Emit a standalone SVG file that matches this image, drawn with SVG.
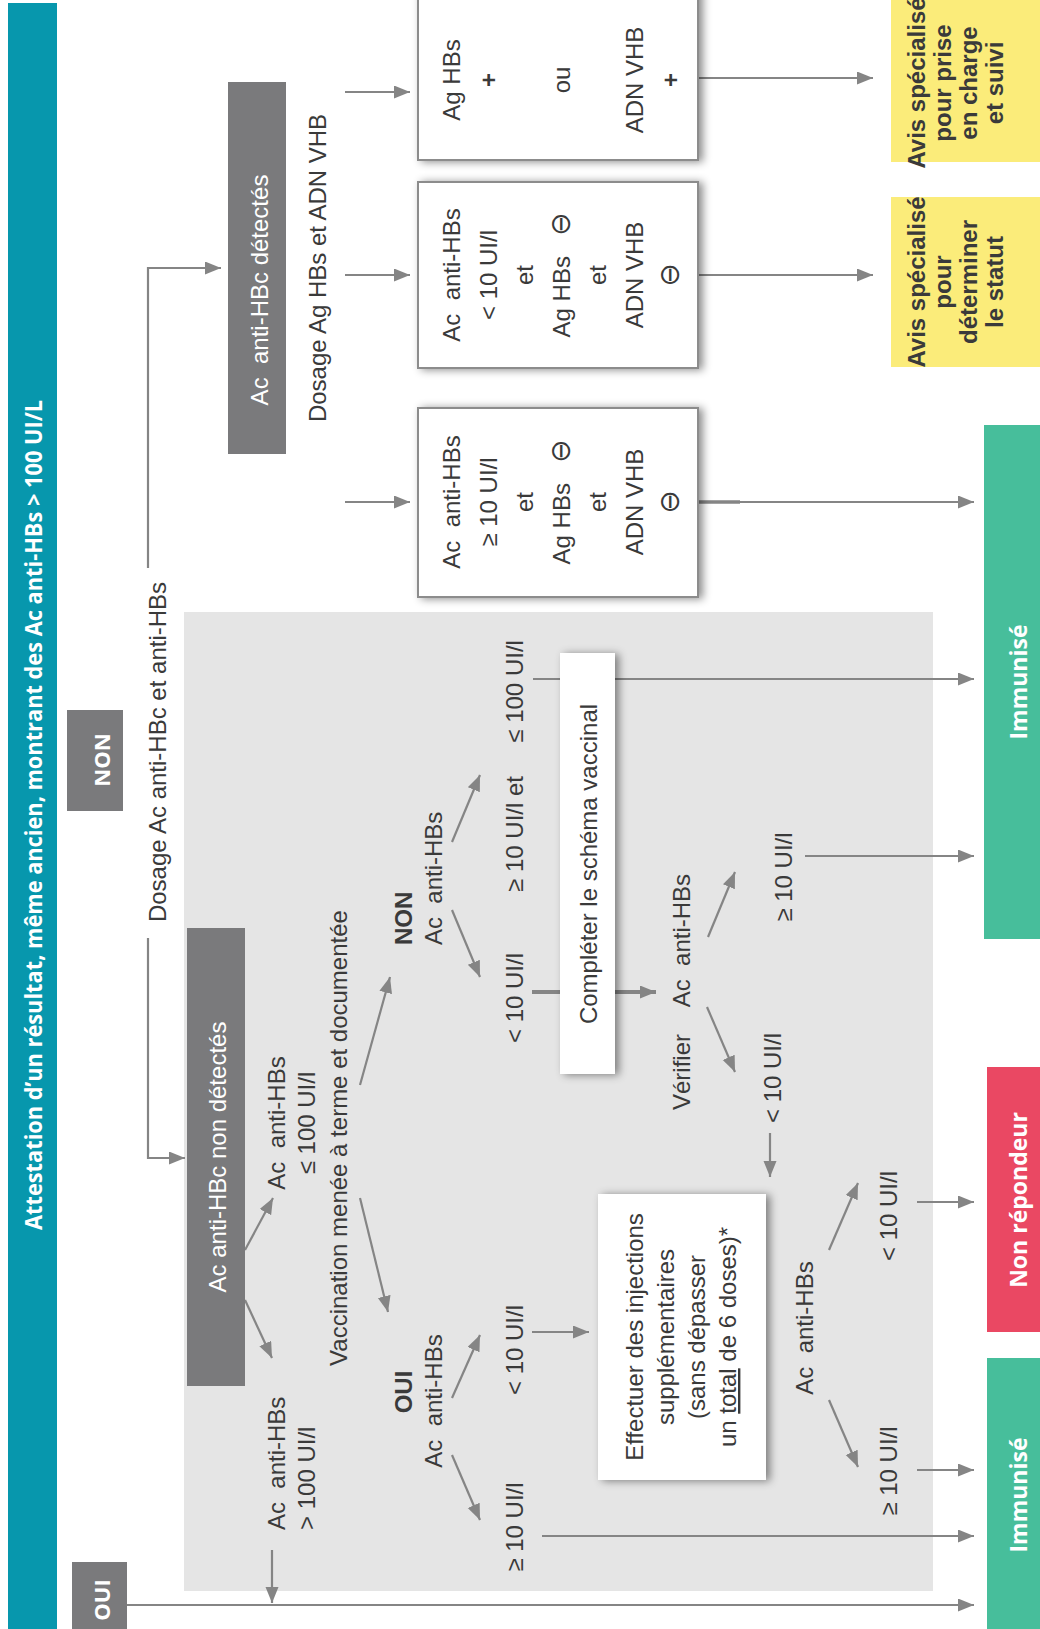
<svg xmlns="http://www.w3.org/2000/svg" width="1040" height="1629" viewBox="0 0 1040 1629">
<defs>
<style>
.t{font-family:"Liberation Sans",Arial,sans-serif;font-size:24px;fill:#3a3a3a}
.m{text-anchor:middle}
.w{fill:#fff}
.b{font-weight:bold}
.os{font-family:"Open Sans","Liberation Sans",sans-serif;font-weight:700;fill:#fff}
.ln{fill:none;stroke:#858585;stroke-width:2.2}
.dk{fill:#7a7a7c}
.box{fill:#fff;stroke:#8c8c8c;stroke-width:2}
.wb{fill:#fff}
.sym{font-family:"DejaVu Sans",sans-serif;font-size:28px}
</style>
<marker id="ah" markerUnits="userSpaceOnUse" markerWidth="17" markerHeight="14" refX="16" refY="6.5" orient="auto"><path d="M0,0 L16,6.5 L0,13 z" fill="#858585"/></marker>
<filter id="sh" x="-30%" y="-30%" width="160%" height="160%"><feDropShadow dx="4" dy="1" stdDeviation="4" flood-color="#000" flood-opacity="0.45"/></filter>
</defs>
<rect width="1040" height="1629" fill="#fff"/>
<rect id="zone-gris" x="184" y="612" width="749" height="979" fill="#e5e5e5"/>

<g id="connectors">
<path class="ln" d="M148,568 V268 H221" marker-end="url(#ah)"/>
<path class="ln" d="M148,938 V1158 H185" marker-end="url(#ah)"/>
<path class="ln" d="M245,1250 L273,1198" marker-end="url(#ah)"/>
<path class="ln" d="M245,1300 L272,1358" marker-end="url(#ah)"/>
<path class="ln" d="M272,1550 V1603" marker-end="url(#ah)"/>
<path class="ln" d="M127,1605 H974" marker-end="url(#ah)"/>
<path class="ln" d="M360,1085 L390,977" marker-end="url(#ah)"/>
<path class="ln" d="M360,1198 L388,1312" marker-end="url(#ah)"/>
<path class="ln" d="M452,842 L480,775" marker-end="url(#ah)"/>
<path class="ln" d="M452,910 L480,977" marker-end="url(#ah)"/>
<path class="ln" d="M533,679 H974" marker-end="url(#ah)"/>
<path class="ln" d="M532,992 H656" style="stroke-width:4" marker-end="url(#ah)"/>
<path class="ln" d="M708,937 L735,872" marker-end="url(#ah)"/>
<path class="ln" d="M707,1007 L735,1072" marker-end="url(#ah)"/>
<path class="ln" d="M805,856 H974" marker-end="url(#ah)"/>
<path class="ln" d="M770,1133 V1177" marker-end="url(#ah)"/>
<path class="ln" d="M452,1398 L480,1335" marker-end="url(#ah)"/>
<path class="ln" d="M452,1455 L480,1520" marker-end="url(#ah)"/>
<path class="ln" d="M532,1332 H589" marker-end="url(#ah)"/>
<path class="ln" d="M542,1536 H974" marker-end="url(#ah)"/>
<path class="ln" d="M829,1250 L858,1183" marker-end="url(#ah)"/>
<path class="ln" d="M829,1400 L858,1467" marker-end="url(#ah)"/>
<path class="ln" d="M917,1202 H974" marker-end="url(#ah)"/>
<path class="ln" d="M917,1470 H974" marker-end="url(#ah)"/>
<path class="ln" d="M345,92 H410" marker-end="url(#ah)"/>
<path class="ln" d="M345,275 H410" marker-end="url(#ah)"/>
<path class="ln" d="M345,502 H410" marker-end="url(#ah)"/>
<path class="ln" d="M698,78 H873" marker-end="url(#ah)"/>
<path class="ln" d="M698,275 H873" marker-end="url(#ah)"/>
<path class="ln" d="M698,502 H974" marker-end="url(#ah)"/>
<path class="ln" d="M698,502 H740" style="stroke-width:3.5"/>
</g>

<g id="titre">
<rect x="8" y="3" width="49" height="1626" fill="#0797ad"/>
<text class="os" font-size="23" transform="translate(42,815) rotate(-90)" text-anchor="middle" textLength="830" lengthAdjust="spacingAndGlyphs">Attestation d’un résultat, même ancien, montrant des Ac anti-HBs &gt; 100 UI/L</text>
</g>
<g id="oui">
<rect class="dk" x="72" y="1562" width="55" height="67"/>
<text class="os" font-size="22" transform="translate(110,1600) rotate(-90)" text-anchor="middle">OUI</text>
</g>
<g id="non">
<rect class="dk" x="67" y="710" width="56" height="101"/>
<text class="os" font-size="22" transform="translate(110,760) rotate(-90)" text-anchor="middle">NON</text>
</g>
<g id="dosage1">
<text class="t m" transform="translate(166,752) rotate(-90)">Dosage Ac anti-HBc et anti-HBs</text>
</g>
<g id="non-detectes">
<rect class="dk" x="187" y="928" width="58" height="458"/>
<text class="t m w" font-size="25" transform="translate(226,1157) rotate(-90)">Ac anti-HBc non détectés</text>
</g>
<g id="detectes">
<rect class="dk" x="228" y="82" width="58" height="372"/>
<text class="t m w" font-size="25" transform="translate(268,290) rotate(-90)">Ac&#160; anti-HBc détectés</text>
</g>
<g id="dosage2">
<text class="t m" transform="translate(326,268) rotate(-90)">Dosage Ag HBs et ADN VHB</text>
</g>
<g id="res1">
<rect class="box" x="418" y="408" width="280" height="189" filter="url(#sh)"/>
<text class="t m" transform="translate(460,502) rotate(-90)"><tspan x="0" y="0">Ac&#160; anti-HBs</tspan><tspan x="0" dy="36.5">≥ 10 UI/l</tspan><tspan x="0" dy="36.5">et</tspan><tspan x="0" dy="36.5">Ag HBs&#160;&#160;&#160;<tspan class="sym">⊖</tspan></tspan><tspan x="0" dy="36.5">et</tspan><tspan x="0" dy="36.5">ADN VHB</tspan><tspan x="0" dy="36.5" class="sym">⊖</tspan></text>
</g>
<g id="res2">
<rect class="box" x="418" y="182" width="280" height="186" filter="url(#sh)"/>
<text class="t m" transform="translate(460,275) rotate(-90)"><tspan x="0" y="0">Ac&#160; anti-HBs</tspan><tspan x="0" dy="36.5">&lt; 10 UI/l</tspan><tspan x="0" dy="36.5">et</tspan><tspan x="0" dy="36.5">Ag HBs&#160;&#160;&#160;<tspan class="sym">⊖</tspan></tspan><tspan x="0" dy="36.5">et</tspan><tspan x="0" dy="36.5">ADN VHB</tspan><tspan x="0" dy="36.5" class="sym">⊖</tspan></text>
</g>
<g id="res3">
<rect class="box" x="418" y="-10" width="280" height="170" filter="url(#sh)"/>
<text class="t m" transform="translate(460,80) rotate(-90)"><tspan x="0" y="0">Ag HBs</tspan><tspan x="0" dy="36.5" class="b">+</tspan><tspan x="0" dy="73">ou</tspan><tspan x="0" dy="73">ADN VHB</tspan><tspan x="0" dy="36.5" class="b">+</tspan></text>
</g>
<g id="avis1">
<rect x="891" y="0" width="149" height="162" fill="#fbec7a"/>
<text class="t m b" font-size="20" fill="#222" transform="translate(925,83) rotate(-90)"><tspan x="0" y="0">Avis spécialisé</tspan><tspan x="0" dy="26">pour prise</tspan><tspan x="0" dy="26">en charge</tspan><tspan x="0" dy="26">et suivi</tspan></text>
</g>
<g id="avis2">
<rect x="891" y="197" width="149" height="170" fill="#fbec7a"/>
<text class="t m b" font-size="20" fill="#222" transform="translate(925,282) rotate(-90)"><tspan x="0" y="0">Avis spécialisé</tspan><tspan x="0" dy="26">pour</tspan><tspan x="0" dy="26">déterminer</tspan><tspan x="0" dy="26">le statut</tspan></text>
</g>
<g id="immunise1">
<rect x="984" y="425" width="56" height="514" fill="#47be9b"/>
<text class="os" font-size="23" transform="translate(1027,682) rotate(-90)" text-anchor="middle">Immunisé</text>
</g>
<g id="non-repondeur">
<rect x="987" y="1067" width="53" height="265" fill="#ea4863"/>
<text class="os" font-size="23" transform="translate(1027,1200) rotate(-90)" text-anchor="middle">Non répondeur</text>
</g>
<g id="immunise2">
<rect x="987" y="1358" width="53" height="271" fill="#47be9b"/>
<text class="os" font-size="23" transform="translate(1027,1495) rotate(-90)" text-anchor="middle">Immunisé</text>
</g>
<g id="completer">
<rect class="wb" x="560" y="653" width="55" height="421" filter="url(#sh)"/>
<text class="t m" transform="translate(597,864) rotate(-90)">Compléter le schéma vaccinal</text>
</g>
<g id="effectuer">
<rect class="wb" x="598" y="1194" width="168" height="286" filter="url(#sh)"/>
<text class="t m" transform="translate(643,1337) rotate(-90)"><tspan x="0" y="0">Effectuer des injections</tspan><tspan x="0" dy="31">supplémentaires</tspan><tspan x="0" dy="31">(sans dépasser</tspan><tspan x="0" dy="31">un <tspan text-decoration="underline">total</tspan> de 6 doses)*</tspan></text>
</g>
<g id="labels">
<text class="t m" transform="translate(285,1123) rotate(-90)"><tspan x="0" y="0">Ac&#160; anti-HBs</tspan><tspan x="0" dy="30">≤ 100 UI/l</tspan></text>
<text class="t" transform="translate(285,1530) rotate(-90)"><tspan x="0" y="0">Ac&#160; anti-HBs</tspan><tspan x="0" dy="30">&gt; 100 UI/l</tspan></text>
<text class="t m" transform="translate(347,1138) rotate(-90)">Vaccination menée à terme et documentée</text>
<text class="t b" font-size="25" transform="translate(412,945) rotate(-90)">NON</text>
<text class="t" transform="translate(442,945) rotate(-90)">Ac&#160; anti-HBs</text>
<text class="t m b" font-size="25" transform="translate(412,1392) rotate(-90)">OUI</text>
<text class="t m" transform="translate(442,1401) rotate(-90)">Ac&#160; anti-HBs</text>
<text class="t m" transform="translate(523,766) rotate(-90)">≥ 10 UI/l et&#160;&#160;&#160;&#160; ≤ 100 UI/l</text>
<text class="t m" transform="translate(523,998) rotate(-90)">&lt; 10 UI/l</text>
<text class="t m" transform="translate(523,1350) rotate(-90)">&lt; 10 UI/l</text>
<text class="t m" transform="translate(523,1527) rotate(-90)">≥ 10 UI/l</text>
<text class="t" transform="translate(690,1110) rotate(-90)">Vérifier&#160;&#160;&#160;&#160;Ac&#160; anti-HBs</text>
<text class="t m" transform="translate(792,877) rotate(-90)">≥ 10 UI/l</text>
<text class="t m" transform="translate(781,1078) rotate(-90)">&lt; 10 UI/l</text>
<text class="t m" transform="translate(813,1328) rotate(-90)">Ac&#160; anti-HBs</text>
<text class="t m" transform="translate(897,1216) rotate(-90)">&lt; 10 UI/l</text>
<text class="t m" transform="translate(897,1471) rotate(-90)">≥ 10 UI/l</text>
</g>
</svg>
